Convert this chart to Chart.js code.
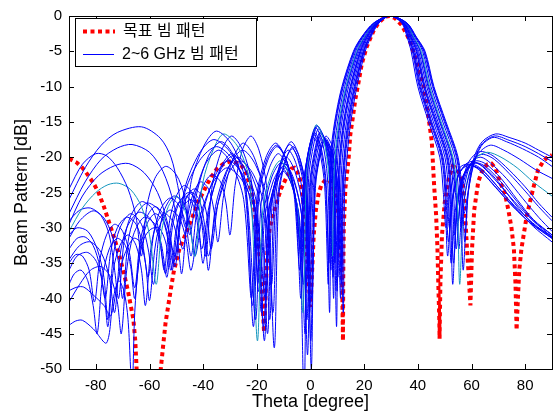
<!DOCTYPE html>
<html>
<head>
<meta charset="utf-8">
<script src="https://cdn.jsdelivr.net/npm/chart.js@4.4.1/dist/chart.umd.min.js"></script>
<style>
  html, body { margin: 0; padding: 0; background: #fff; }
  #wrap { width: 555px; height: 415px; }
</style>
</head>
<body>
<div id="wrap"><canvas id="myChart" width="555" height="415"></canvas></div>
<script>
const xTicks = [-80, -60, -40, -20, 0, 20, 40, 60, 80];
const yTicks = [0, -5, -10, -15, -20, -25, -30, -35, -40, -45, -50];
const legendLabels = ['목표 빔 패턴', '2~6 GHz 빔 패턴'];

// target pattern [theta, dB]
const target = [[-90,-20.2],[-87,-20.8],[-85,-21.5],[-83,-22.5],[-81,-23.6],[-79,-25],[-77,-27],[-75,-29.3],[-73,-31.6],[-71,-34.3],[-69.5,-36.5],[-68,-39],[-67,-41],[-66,-43],[-65.3,-46],[-64.8,-50],[-64,-55],[-62,-60],[-60,-62],[-58,-60],[-56.5,-55],[-55.8,-50],[-55,-47],[-54,-43.4],[-53,-41],[-52,-38.6],[-51,-36.3],[-50,-34.7],[-49,-33.2],[-48,-32.2],[-47,-31.3],[-46,-30.4],[-45,-29.4],[-44,-28.5],[-43,-27.5],[-42,-26.3],[-40,-25],[-38.5,-23.8],[-37,-22.8],[-35,-21.7],[-32.3,-20.9],[-29.2,-20.5],[-26.1,-21],[-24.2,-22],[-23,-23.5],[-22,-25],[-21.3,-26.3],[-20.8,-27.7],[-20.1,-29.8],[-19.5,-31.5],[-18.8,-35],[-18,-40],[-17.3,-44.8],[-16.6,-38],[-16,-33],[-15.3,-30.3],[-14.5,-29],[-13.5,-27.6],[-12.5,-26.3],[-11,-24.5],[-9,-22.9],[-7,-21.6],[-6,-21.5],[-5,-22],[-4,-23],[-3.2,-24.6],[-2.2,-28],[-1.3,-34],[-0.5,-38.5],[0,-41.2],[0.5,-37],[1.2,-31],[2,-27.5],[3,-25.2],[4,-24],[5.5,-23.2],[7,-23.3],[8.5,-24.3],[9.5,-25.8],[10.5,-28.5],[11.3,-32.5],[11.8,-38],[12.1,-46],[12.2,-37],[12.4,-30],[13,-24.4],[14.2,-20.2],[14.8,-16.9],[15.8,-14.3],[16.7,-11.8],[17.9,-9.4],[19.1,-6.8],[21,-4.3],[23.5,-2.1],[25.3,-1],[27.8,-0.1],[29.5,0],[31.5,-0.3],[34,-1.3],[36,-2.7],[37.1,-3.6],[39.6,-6.6],[42,-9.6],[43.9,-14.1],[45.2,-17.8],[46.1,-24.2],[46.8,-28.1],[47.3,-32.8],[47.6,-37.5],[48,-43.1],[48.1,-45.7],[48.4,-38],[49,-31],[50,-26.5],[51.5,-23],[53,-21.3],[54.5,-21.5],[56,-22.8],[57.1,-24.4],[58.3,-32.8],[59,-37],[59.6,-41],[60.2,-33],[61,-27.5],[62.5,-23.5],[64.3,-21.6],[66,-21],[67.5,-20.9],[69,-21.6],[70,-22.8],[71.2,-24],[72.4,-25.1],[73.7,-27.4],[74.9,-30],[75.8,-33],[76.4,-38],[76.8,-44.5],[77.3,-40],[77.8,-36],[78.6,-33],[80.5,-28.5],[82,-26],[83,-24.4],[84.8,-21.8],[86.7,-20.6],[88,-20.1],[90,-19.7]];

// beam patterns over 2~6 GHz [theta, dB]
const bp1 = [[-90,-26],[-84,-21.5],[-78,-18.3],[-72,-16.5],[-63,-15.7],[-56,-17.3],[-52,-20],[-49.5,-24],[-46.5,-30],[-43.6,-26],[-39.2,-21],[-34.2,-19],[-29.4,-21],[-24.9,-26],[-22,-40],[-19.8,-25],[-16.6,-20],[-13,-18],[-9.4,-20],[-6.2,-25],[-4,-36],[-2.7,-24.2],[-0.8,-19.2],[1.1,-17.2],[3.4,-19.2],[5.3,-24.2],[6.6,-38],[7.1,-25],[7.4,-20],[9,-15],[11.7,-10],[16,-5],[19,-3],[23.5,-1],[29.7,0],[36,-1],[39.5,-3],[42.7,-5],[46,-10],[50.5,-15],[55,-20],[56.5,-25],[57.5,-32],[59,-24],[61,-20],[64,-17.8],[69,-16.7],[74,-17.2],[80,-18],[85,-19],[90,-20]];
const bp2 = [[-90,-28],[-84,-23.5],[-78,-20.3],[-72,-18.7],[-66.5,-18.2],[-60,-19.3],[-55,-22],[-51,-26.5],[-47.5,-33],[-44.4,-23.3],[-39.6,-18.3],[-35,-16.3],[-29.2,-18.3],[-24.4,-23.3],[-21.3,-44],[-19.2,-25.5],[-16,-20.5],[-12.5,-18.5],[-8.9,-20.5],[-5.7,-25.5],[-3.6,-40],[-2.3,-23.5],[-0.4,-18.5],[1.5,-16.5],[3.9,-18.5],[5.8,-23.5],[7.1,-42],[7.6,-25],[8,-20],[9.5,-15],[12.2,-10],[16.4,-5],[19.3,-3],[23.7,-1],[29.7,0],[35.8,-1],[39.2,-3],[42.2,-5],[45.5,-10],[49.9,-15],[54.4,-20],[55.9,-25],[56.9,-36],[58.5,-26],[60.5,-21.5],[63.5,-18.5],[68,-17.2],[73,-17.8],[79,-18.8],[85,-20],[90,-21.3]];
const bp3 = [[-90,-29.5],[-85,-25.5],[-79,-22.6],[-73,-21.2],[-67.7,-20.9],[-62,-22.2],[-57,-25],[-53.5,-29],[-50.5,-34],[-46.9,-24.5],[-41.5,-19.5],[-36,-17.5],[-29.5,-19.5],[-24.1,-24.5],[-20.5,-43],[-18.4,-26.5],[-15.3,-21.5],[-12,-19.5],[-8.4,-21.5],[-5.3,-26.5],[-3.2,-37],[-1.9,-22.8],[0,-17.8],[1.9,-15.8],[4.4,-17.8],[6.3,-22.8],[7.6,-36],[8.1,-25],[8.5,-20],[10.1,-15],[12.7,-10],[16.8,-5],[19.6,-3],[23.9,-1],[29.7,0],[35.6,-1],[38.9,-3],[41.8,-5],[44.9,-10],[49.3,-15],[53.8,-20],[55.2,-25],[56.2,-30],[57.5,-25.5],[59.5,-22],[62.5,-19.5],[67,-18.3],[72,-19],[78,-20.3],[84,-21.8],[90,-23]];
const bp4 = [[-90,-30.5],[-85,-27.2],[-80,-25],[-75.5,-23.9],[-71.4,-23.7],[-67,-24.6],[-63,-27],[-60,-31],[-57.5,-38],[-55.5,-30.5],[-53,-27],[-50,-25.5],[-47.5,-26.8],[-45,-30],[-43,-34],[-40.2,-23.7],[-36,-18.7],[-32.3,-16.7],[-26.8,-18.7],[-22.6,-23.7],[-19.8,-46],[-17.8,-27.5],[-14.7,-22.5],[-11.3,-20.5],[-7.9,-22.5],[-4.8,-27.5],[-2.8,-42],[-1.5,-22.4],[0.5,-17.4],[2.2,-15.4],[4.8,-17.4],[6.8,-22.4],[8.1,-34],[8.6,-25],[9.1,-20],[10.6,-15],[13.2,-10],[17.2,-5],[20,-3],[24,-1],[29.7,0],[35.5,-1],[38.5,-3],[41.3,-5],[44.4,-10],[48.7,-15],[53.1,-20],[54.6,-25],[55.6,-38],[57,-27],[59,-22.5],[62,-20],[66,-19.3],[71,-20],[77,-21.5],[83,-23.5],[90,-25.5]];
const bp5 = [[-90,-31.5],[-86,-29],[-81,-27.6],[-77,-28.6],[-74,-31],[-71.5,-35],[-70,-40],[-68,-32],[-65.5,-28.5],[-61,-26.5],[-56.5,-27.5],[-53.5,-30.5],[-51,-35],[-47.2,-25.5],[-41.4,-20.5],[-35,-18.5],[-28.6,-20.5],[-22.8,-25.5],[-19,-38],[-17,-28.5],[-14,-23.5],[-10.7,-21.5],[-7.4,-23.5],[-4.4,-28.5],[-2.4,-54],[-1.1,-22.6],[0.9,-17.6],[2.6,-15.6],[5.3,-17.6],[7.3,-22.6],[8.6,-40],[9.1,-25],[9.7,-20],[11.2,-15],[13.7,-10],[17.6,-5],[20.3,-3],[24.2,-1],[29.7,0],[35.3,-1],[38.2,-3],[40.8,-5],[43.8,-10],[48.1,-15],[52.5,-20],[54,-25],[55,-29],[56.5,-24],[58.5,-21],[61.5,-19.5],[64,-19.2],[68,-19.8],[74,-21.8],[80,-24.2],[85,-26.5],[90,-28.5]];
const bp6 = [[-90,-34.5],[-86,-32.5],[-82,-32],[-78,-33.5],[-75,-37],[-73,-42],[-71,-34],[-68.5,-30],[-64,-27.8],[-59.5,-28.8],[-56.5,-31.5],[-54,-36.5],[-52,-30],[-50,-27],[-46.5,-25.5],[-43.5,-27],[-41.5,-31],[-40,-35],[-37.4,-26.5],[-33.5,-21.5],[-29.3,-19.5],[-24.8,-21.5],[-20.9,-26.5],[-18.3,-42],[-16.3,-29],[-13.4,-24],[-10.2,-22],[-6.9,-24],[-4,-29],[-2,-45],[-0.7,-23],[1.3,-18],[3,-16],[5.8,-18],[7.8,-23],[9.1,-35],[9.6,-25],[10.2,-20],[11.7,-15],[14.2,-10],[18,-5],[20.6,-3],[24.4,-1],[29.7,0],[35.1,-1],[37.9,-3],[40.3,-5],[43.3,-10],[47.5,-15],[51.9,-20],[53.3,-25],[54.3,-33],[55.8,-26],[57.8,-22.5],[60.5,-20.5],[63.5,-20],[67,-20.8],[73,-23],[79,-25.8],[85,-28.5],[90,-30.5]];
const bp7 = [[-90,-31],[-87,-30],[-83,-30.5],[-79.5,-33],[-77,-37],[-75.5,-43],[-73.5,-34],[-71,-30],[-67,-28],[-63,-29.5],[-60.5,-33],[-58.5,-38],[-56.5,-31],[-54.5,-27.5],[-51,-25.5],[-47.5,-26.5],[-45,-29.5],[-43,-34],[-39.9,-27.5],[-35.4,-22.5],[-30.5,-20.5],[-25.2,-22.5],[-20.6,-27.5],[-17.5,-44],[-15.6,-28],[-12.7,-23],[-9.5,-21],[-6.3,-23],[-3.4,-28],[-1.5,-38],[-0.2,-23.4],[1.9,-18.4],[3.6,-16.4],[6.3,-18.4],[8.4,-23.4],[9.7,-44],[10.2,-25],[10.8,-20],[12.3,-15],[14.8,-10],[18.4,-5],[20.9,-3],[24.6,-1],[29.7,0],[34.9,-1],[37.6,-3],[39.9,-5],[42.7,-10],[47,-15],[51.3,-20],[52.7,-25],[53.7,-31],[55,-26],[57,-22.8],[59.5,-21],[62,-20.5],[65.5,-21],[71,-23],[77,-26],[83,-28.8],[90,-31]];
const bp8 = [[-90,-38.9],[-87,-38.4],[-84.5,-38.4],[-81,-39.5],[-77,-41],[-74.5,-42.5],[-72,-38],[-69.5,-34],[-66,-31.5],[-63.5,-32],[-61.5,-35],[-60,-40.3],[-58,-33],[-56,-29.5],[-52.5,-27.5],[-49,-28.5],[-46.5,-31.5],[-44.5,-36],[-41.2,-28.5],[-36.2,-23.5],[-31,-21.5],[-25.1,-23.5],[-20.1,-28.5],[-16.8,-40],[-14.9,-27],[-12.1,-22],[-9,-20],[-5.8,-22],[-3,-27],[-1.1,-48],[0.3,-23.8],[2.3,-18.8],[4,-16.8],[6.8,-18.8],[8.8,-23.8],[10.2,-37],[10.7,-25],[11.3,-20],[12.8,-15],[15.3,-10],[18.8,-5],[21.2,-3],[24.8,-1],[29.7,0],[34.7,-1],[37.3,-3],[39.4,-5],[42.2,-10],[46.4,-15],[50.7,-20],[52,-25],[53,-38],[54.5,-27],[56.5,-23],[59,-21.2],[61.5,-20.8],[65,-21.5],[70,-23.5],[76,-26.5],[83,-29.5],[90,-31.5]];
const bp9 = [[-90,-43.8],[-87.5,-43.2],[-85,-43.1],[-81,-44.3],[-76,-46.3],[-73.5,-40],[-71.5,-37.5],[-69.5,-39],[-68,-43],[-66.5,-53],[-65.5,-42],[-64,-35],[-62,-31.5],[-59.5,-30.2],[-56.5,-30],[-54,-32],[-52,-36],[-50,-30],[-47.5,-27],[-44.5,-26],[-41.5,-27.5],[-39.5,-31],[-38,-36],[-35.4,-27],[-31.4,-22],[-27,-20],[-22.6,-22],[-18.6,-27],[-16,-45],[-14.2,-26],[-11.4,-21],[-8.3,-19],[-5.3,-21],[-2.5,-26],[-0.7,-36],[0.7,-24],[2.7,-19],[4.5,-17],[7.3,-19],[9.3,-24],[10.7,-33],[11.2,-25],[11.9,-20],[13.4,-15],[15.8,-10],[19.2,-5],[21.5,-3],[25,-1],[29.7,0],[34.5,-1],[37,-3],[38.9,-5],[41.6,-10],[45.8,-15],[50.1,-20],[51.4,-25],[52.4,-35],[54,-27.5],[56,-23.5],[58.5,-21.7],[61,-21.3],[64.5,-22],[70,-24.3],[76,-27],[83,-29.8],[90,-32]];
const bp10 = [[-90,-36],[-87,-34],[-83,-33.5],[-79.5,-35],[-77,-39],[-75.5,-44],[-73.5,-36],[-71,-32.5],[-68,-31],[-65,-32.5],[-63,-36],[-61.5,-41],[-59.5,-33],[-57.5,-29.5],[-54.5,-28],[-51.5,-29],[-49.5,-32],[-48,-36.5],[-46,-29],[-44,-25.5],[-41,-23.5],[-38,-24.5],[-36,-27.5],[-34.5,-32],[-32.2,-25],[-28.7,-20],[-25,-18],[-21,-20],[-17.5,-25],[-15.2,-43],[-13.4,-25.2],[-10.7,-20.2],[-7.7,-18.2],[-4.8,-20.2],[-2.1,-25.2],[-0.3,-42],[1.1,-24.3],[3.2,-19.3],[5,-17.3],[7.8,-19.3],[9.8,-24.3],[11.2,-40],[11.7,-25],[12.5,-20],[13.9,-15],[16.3,-10],[19.6,-5],[21.9,-3],[25.1,-1],[29.7,0],[34.4,-1],[36.6,-3],[38.5,-5],[41.1,-10],[45.2,-15],[49.4,-20],[50.8,-25],[51.8,-30],[53.2,-25.5],[55.2,-22.5],[57.8,-21],[60.5,-20.6],[64,-21.3],[69.5,-23.5],[76,-26.3],[83,-29],[90,-31]];
const bp11 = [[-90,-33],[-87,-31.5],[-84,-31.3],[-81,-32.5],[-78.5,-35.5],[-76.5,-40],[-74.5,-33.5],[-72,-30],[-68.5,-28.5],[-65,-29.5],[-62.5,-32.5],[-60.5,-37],[-58.5,-31],[-56,-27.5],[-52.5,-25.8],[-49,-26.8],[-46.5,-29.5],[-44.5,-34],[-42.5,-28],[-40.5,-24.5],[-37,-22.5],[-33.5,-23.5],[-31.5,-26.5],[-30,-31],[-28.1,-24],[-25.4,-19],[-22.2,-17],[-19.2,-19],[-16.4,-24],[-14.5,-38],[-12.7,-24.8],[-10.1,-19.8],[-7.2,-17.8],[-4.3,-19.8],[-1.7,-24.8],[0.1,-46],[1.5,-24.5],[3.6,-19.5],[5.4,-17.5],[8.2,-19.5],[10.3,-24.5],[11.7,-36],[12.2,-25],[13,-20],[14.5,-15],[16.8,-10],[20,-5],[22.2,-3],[25.3,-1],[29.7,0],[34.2,-1],[36.3,-3],[38,-5],[40.5,-10],[44.6,-15],[48.8,-20],[50.1,-25],[51.1,-34],[52.6,-26.5],[54.6,-23],[57,-21.5],[60,-21.2],[63.5,-22],[69,-24.3],[75.5,-27],[82.5,-29.5],[90,-31.5]];
const bp12 = [[-90,-35],[-87.5,-33.8],[-85,-34],[-82.5,-36],[-80.5,-40.5],[-78.5,-34.5],[-76,-31],[-73,-29.5],[-70,-30.5],[-67.5,-33.5],[-65.5,-38.5],[-63.5,-32],[-61,-28.5],[-58,-27],[-55,-28],[-52.5,-31],[-50.5,-35.5],[-48.5,-29.5],[-46.5,-26],[-43.5,-24.5],[-40.5,-25.5],[-38.5,-28.5],[-37,-33],[-34.2,-26],[-30,-21],[-25.3,-19],[-20.6,-21],[-16.3,-26],[-13.5,-47],[-11.8,-25.5],[-9.3,-20.5],[-6.5,-18.5],[-3.7,-20.5],[-1.2,-25.5],[0.5,-40],[1.9,-24],[4,-19],[5.8,-17],[8.7,-19],[10.8,-24],[12.2,-42],[12.7,-25],[13.6,-20],[15,-15],[17.3,-10],[20.4,-5],[22.5,-3],[25.5,-1],[29.7,0],[34,-1],[36,-3],[37.5,-5],[40,-10],[44,-15],[48.2,-20],[49.5,-25],[50.5,-30],[52,-25],[54,-22.3],[56.5,-21.2],[59.5,-21],[63,-21.8],[68.5,-24],[75,-26.8],[82,-29.3],[90,-31.2]];
const bp13 = [[-90,-24.5],[-85,-21],[-80,-19.5],[-76,-19.8],[-72,-21.5],[-68,-24.5],[-65,-28.5],[-63,-34],[-61,-27],[-58,-23],[-54,-21.3],[-50,-22.5],[-47,-25.5],[-45,-31],[-42.2,-24.8],[-38,-19.8],[-33.3,-17.8],[-28.6,-19.8],[-24.4,-24.8],[-21.6,-41],[-19.5,-25.3],[-16.3,-20.3],[-12.7,-18.3],[-9.1,-20.3],[-5.9,-25.3],[-3.8,-33],[-2.5,-23.8],[-0.6,-18.8],[1.3,-16.8],[3.7,-18.8],[5.6,-23.8],[6.85,-35],[7.35,-25],[7.7,-20],[9.25,-15],[11.95,-10],[16.2,-5],[19.15,-3],[23.6,-1],[29.7,0],[35.9,-1],[39.35,-3],[42.45,-5],[45.75,-10],[50.2,-15],[54.7,-20],[56.2,-25],[57.2,-28],[58.7,-25],[60.7,-21],[63.5,-18.3],[68.5,-17],[74,-17.6],[80,-18.5],[85,-19.5],[90,-20.6]];
const bp14 = [[-90,-40.5],[-86,-38],[-82,-36],[-78,-35.5],[-74.5,-37],[-72,-40.5],[-70.5,-45],[-68.5,-36],[-66,-31],[-62,-28.5],[-58,-29.5],[-55.5,-32.5],[-53.5,-37],[-51.5,-30],[-49,-26.5],[-45.5,-25],[-42.5,-26.2],[-40.5,-29.5],[-39,-34],[-36.6,-24],[-33.1,-19],[-29.4,-17],[-25.3,-19],[-21.8,-24],[-19.4,-39],[-17.4,-27.8],[-14.4,-22.8],[-11,-20.8],[-7.6,-22.8],[-4.6,-27.8],[-2.6,-38],[-1.3,-22.5],[0.7,-17.5],[2.4,-15.5],[5.1,-17.5],[7.1,-22.5],[8.4,-37],[8.9,-25],[9.4,-20],[10.9,-15],[13.4,-10],[17.4,-5],[20.1,-3],[24.1,-1],[29.7,0],[35.4,-1],[38.4,-3],[41,-5],[44.1,-10],[48.4,-15],[52.8,-20],[54.3,-25],[55.3,-33],[56.8,-25.5],[58.8,-21.8],[61.5,-20],[64.5,-19.6],[68.5,-20.3],[74,-22.3],[80,-24.8],[85,-27],[90,-29]];
const bp15 = [[-90,-29],[-86,-27.5],[-82,-27.2],[-78,-28.3],[-75,-31],[-73,-36],[-71.5,-40],[-69.5,-32],[-67,-28.3],[-63,-26.3],[-59,-27.3],[-56.5,-30.5],[-54.5,-36],[-52.5,-29],[-50,-25.5],[-47,-24],[-44,-25.2],[-42,-28.5],[-40.5,-33],[-37.7,-26.8],[-33.5,-21.8],[-28.9,-19.8],[-24.2,-21.8],[-20,-26.8],[-17.2,-46],[-15.3,-28.5],[-12.4,-23.5],[-9.3,-21.5],[-6.1,-23.5],[-3.2,-28.5],[-1.3,-43],[0,-23.6],[2.1,-18.6],[3.8,-16.6],[6.5,-18.6],[8.6,-23.6],[9.9,-39],[10.4,-25],[11,-20],[12.5,-15],[15,-10],[18.6,-5],[21,-3],[24.7,-1],[29.7,0],[34.8,-1],[37.4,-3],[39.6,-5],[42.4,-10],[46.7,-15],[51,-20],[52.3,-25],[53.3,-35],[54.8,-27],[56.8,-23],[59.3,-21.3],[62,-20.8],[65.5,-21.4],[71,-23.5],[77,-26.3],[83,-29],[90,-31.3]];
const bp16 = [[-90,-38],[-88,-36.5],[-85.5,-36],[-83,-37.5],[-81,-41],[-79.5,-45],[-77.5,-37],[-75,-33],[-72,-31.5],[-69,-32.5],[-67,-35.5],[-65.5,-40],[-63.5,-33],[-61,-29.5],[-58,-28],[-55,-29],[-53,-32],[-51.5,-36],[-49.5,-29.5],[-47.5,-26.5],[-44.5,-25],[-41.5,-26],[-39.5,-29.5],[-38,-34],[-35.1,-27.5],[-30.8,-22.5],[-26.3,-20.5],[-21.2,-22.5],[-16.9,-27.5],[-14,-42],[-12.3,-25.8],[-9.7,-20.8],[-6.8,-18.8],[-4,-20.8],[-1.4,-25.8],[0.3,-50],[1.6,-24.3],[3.7,-19.3],[5.6,-17.3],[8.1,-19.3],[10.2,-24.3],[11.5,-38],[12,-25],[12.7,-20],[14.2,-15],[16.5,-10],[19.8,-5],[22,-3],[25.2,-1],[29.7,0],[34.3,-1],[36.5,-3],[38.3,-5],[40.8,-10],[44.9,-15],[49.1,-20],[50.4,-25],[51.4,-32],[52.9,-26],[54.9,-22.8],[57.4,-21.3],[60.3,-21],[63.8,-21.7],[69.3,-24],[75.8,-26.8],[82.8,-29.3],[90,-31.4]];

const beams = [bp1, bp13, bp2, bp3, bp4, bp14, bp5, bp6, bp7, bp15, bp8, bp9, bp10, bp16, bp11, bp12];

function toPoints(arr) {
  return arr.map(p => ({ x: p[0], y: p[1] }));
}

const datasets = [{
  label: legendLabels[0],
  data: toPoints(target),
  borderColor: 'rgb(255,0,0)',
  borderWidth: 4,
  borderDash: [4, 3.5],
  pointRadius: 0,
  tension: 0,
  clip: 0,
  order: 1
}];
beams.forEach(b => {
  datasets.push({
    label: legendLabels[1],
    data: toPoints(b),
    borderColor: b === bp4 ? 'rgb(20,150,190)' : 'rgb(0,0,255)',
    borderWidth: 1,
    pointRadius: 0,
    tension: 0.3,
    clip: 0,
    order: 0
  });
});

// box with inward ticks on all four sides
const frame = {
  id: 'frame',
  afterDatasetsDraw(chart) {
    const { ctx, chartArea: a, scales: { x, y } } = chart;
    ctx.save();
    ctx.strokeStyle = '#000';
    ctx.lineWidth = 1;
    ctx.beginPath();
    xTicks.forEach(v => {
      const px = Math.round(x.getPixelForValue(v)) + 0.5;
      ctx.moveTo(px, a.bottom); ctx.lineTo(px, a.bottom - 5);
      ctx.moveTo(px, a.top); ctx.lineTo(px, a.top + 5);
    });
    yTicks.forEach(v => {
      const py = Math.round(y.getPixelForValue(v)) + 0.5;
      ctx.moveTo(a.left, py); ctx.lineTo(a.left + 5, py);
      ctx.moveTo(a.right, py); ctx.lineTo(a.right - 5, py);
    });
    ctx.stroke();
    ctx.strokeRect(Math.round(a.left) + 0.5, Math.round(a.top) + 0.5,
      Math.round(a.right - a.left), Math.round(a.bottom - a.top));
    ctx.restore();
  }
};

// matlab style legend box in the upper left corner
const boxLegend = {
  id: 'boxLegend',
  afterDraw(chart) {
    const ctx = chart.ctx;
    ctx.save();
    ctx.fillStyle = '#fff';
    ctx.fillRect(75.5, 18.5, 181, 48);
    ctx.strokeStyle = '#000';
    ctx.lineWidth = 1;
    ctx.strokeRect(75.5, 18.5, 181, 48);

    ctx.beginPath();
    ctx.strokeStyle = 'rgb(255,0,0)';
    ctx.lineWidth = 4;
    ctx.setLineDash([4, 3.5]);
    ctx.moveTo(83, 31.5); ctx.lineTo(115, 31.5);
    ctx.stroke();

    ctx.beginPath();
    ctx.setLineDash([]);
    ctx.strokeStyle = 'rgb(0,0,255)';
    ctx.lineWidth = 1;
    ctx.moveTo(83, 54.5); ctx.lineTo(114, 54.5);
    ctx.stroke();

    ctx.fillStyle = '#000';
    ctx.textBaseline = 'middle';
    ctx.font = '16px "Liberation Sans", "Noto Sans CJK KR", sans-serif';
    ctx.fillText(legendLabels[0], 123, 31.5);
    ctx.fillText(legendLabels[1], 122, 54.5);
    ctx.restore();
  }
};

const tickFont = { family: '"Liberation Sans", Arial, sans-serif', size: 15 };
const titleFont = { family: '"Liberation Sans", Arial, sans-serif', size: 18 };

const ctx = document.getElementById('myChart');
const myChart = new Chart(ctx, {
  type: 'line',
  data: { datasets: datasets },
  options: {
    responsive: false,
    animation: false,
    devicePixelRatio: 1,
    layout: { padding: { left: 0, right: 3, top: 13, bottom: 0 } },
    plugins: { legend: { display: false }, tooltip: { enabled: false } },
    scales: {
      x: {
        type: 'linear',
        min: -90,
        max: 90,
        grid: { display: false, drawTicks: false },
        border: { display: false },
        afterBuildTicks: s => { s.ticks = xTicks.map(v => ({ value: v })); },
        afterFit: s => { s.height = 46; },
        ticks: { color: '#000', font: tickFont, padding: 8, maxRotation: 0 },
        title: { display: true, text: 'Theta [degree]', color: '#000', font: titleFont, padding: { top: 0, bottom: 2 } }
      },
      y: {
        type: 'linear',
        min: -50,
        max: 0,
        grid: { display: false, drawTicks: false },
        border: { display: false },
        afterBuildTicks: s => { s.ticks = yTicks.map(v => ({ value: v })); },
        afterFit: s => { s.width = 69; },
        ticks: { color: '#000', font: tickFont, padding: 7 },
        title: { display: true, text: 'Beam Pattern [dB]', color: '#000', font: titleFont, padding: { top: 11, bottom: 0 } }
      }
    }
  },
  plugins: [frame, boxLegend]
});
</script>
</body>
</html>
